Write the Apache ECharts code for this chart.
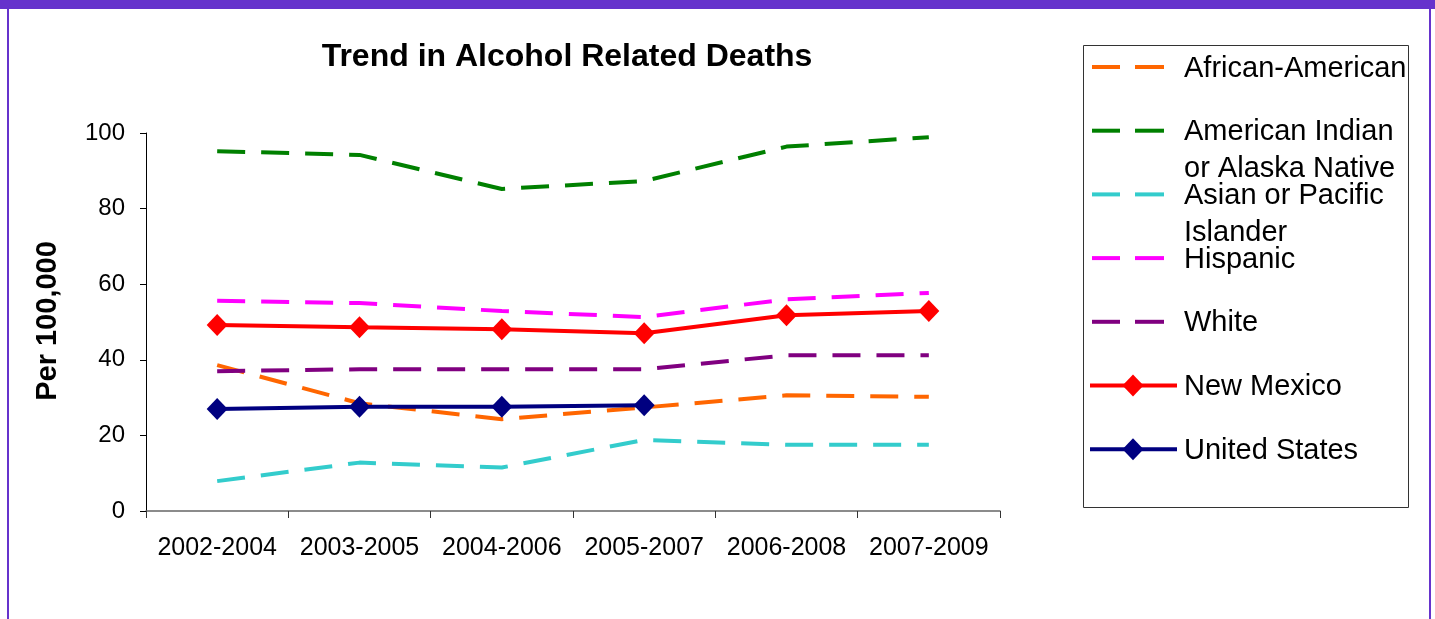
<!DOCTYPE html>
<html>
<head>
<meta charset="utf-8">
<script src="https://cdn.jsdelivr.net/npm/echarts@6/dist/echarts.min.js"></script>
<style>
html,body{margin:0;padding:0;background:#fff;}
#c{width:1435px;height:619px;}
</style>
</head>
<body>
<div id="c"></div>
<script>
// ---- data ----
var categories = ['2002-2004','2003-2005','2004-2006','2005-2007','2006-2008','2007-2009'];
var africanAmerican = [38.6, 28.5, 24.3, 27.4, 30.6, 30.2];
var americanIndian  = [95.2, 94.2, 85.2, 87.3, 96.4, 98.9];
var asianPacific    = [7.9, 12.8, 11.5, 18.8, 17.5, 17.5];
var hispanic        = [55.6, 55.0, 52.9, 51.3, 56.0, 57.7];
var white           = [37.0, 37.5, 37.5, 37.5, 41.2, 41.2];
var newMexico       = [49.2, 48.6, 48.1, 47.0, 51.8, 52.9];
var unitedStates    = [27.0, 27.6, 27.6, 28.0, null, null];
var yTicks = [0, 20, 40, 60, 80, 100];

var seriesDefs = [
  {name:'African-American', legend:'African-American', data:africanAmerican, color:'#FF6600', dashed:true},
  {name:'American Indian or Alaska Native', legend:'American Indian\nor Alaska Native', data:americanIndian, color:'#008000', dashed:true},
  {name:'Asian or Pacific Islander', legend:'Asian or Pacific\nIslander', data:asianPacific, color:'#33CCCC', dashed:true},
  {name:'Hispanic', legend:'Hispanic', data:hispanic, color:'#FF00FF', dashed:true},
  {name:'White', legend:'White', data:white, color:'#800080', dashed:true},
  {name:'New Mexico', legend:'New Mexico', data:newMexico, color:'#FF0000', dashed:false},
  {name:'United States', legend:'United States', data:unitedStates, color:'#000080', dashed:false}
];

var FONT = 'Arial, "Liberation Sans", sans-serif';
var DASH = [28, 16];

var series = seriesDefs.map(function(d){
  return {
    name: d.name,
    type: 'line',
    data: d.data,
    connectNulls: false,
    symbol: d.dashed ? 'none' : 'diamond',
    symbolSize: [21, 22],
    showSymbol: !d.dashed,
    itemStyle: {color: d.color, borderWidth: 0},
    lineStyle: {color: d.color, width: 4, type: d.dashed ? DASH : 'solid', cap: 'butt'},
    animation: false,
    z: 2
  };
});

// legend drawn as graphics
var legendX = 1083, legendY = 45, legendW = 325, legendH = 462;
var itemY0 = 67, itemStep = 63.7;
var graphics = [
  // outer frame
  {type:'rect', shape:{x:0,y:0,width:1435,height:9}, style:{fill:'#6633CC'}, silent:true},
  {type:'rect', shape:{x:7,y:0,width:2,height:619}, style:{fill:'#6633CC'}, silent:true},
  {type:'rect', shape:{x:1429,y:0,width:2,height:619}, style:{fill:'#6633CC'}, silent:true},
  // legend box
  {type:'rect', shape:{x:legendX+0.5,y:legendY+0.5,width:legendW,height:legendH},
   style:{fill:'#fff', stroke:'#333', lineWidth:1}, silent:true, z:1},
  // y axis name
  {type:'text', x:48, y:321, rotation:Math.PI/2,
   style:{text:'Per 100,000', font:'bold 29px ' + FONT, fill:'#000', textAlign:'center', textVerticalAlign:'middle'}}
];
seriesDefs.forEach(function(d, i){
  var y = itemY0 + i*itemStep;
  if (d.dashed) {
    graphics.push({type:'line', shape:{x1:1092,y1:y,x2:1120,y2:y}, style:{stroke:d.color, lineWidth:4}, z:2});
    graphics.push({type:'line', shape:{x1:1135,y1:y,x2:1164,y2:y}, style:{stroke:d.color, lineWidth:4}, z:2});
  } else {
    graphics.push({type:'line', shape:{x1:1090,y1:y,x2:1177,y2:y}, style:{stroke:d.color, lineWidth:4}, z:2});
    graphics.push({type:'polygon', shape:{points:[[1133,y-11],[1143.5,y],[1133,y+11],[1122.5,y]]}, style:{fill:d.color}, z:3});
  }
  graphics.push({type:'text', x:1184, y:y-17, z:2,
    style:{text:d.legend, font:'29px ' + FONT, fill:'#000', textAlign:'left', textVerticalAlign:'top', lineHeight:37}});
});

var chart = echarts.init(document.getElementById('c'), null, {renderer:'canvas'});
chart.setOption({
  backgroundColor: '#fff',
  animation: false,
  title: {
    text: 'Trend in Alcohol Related Deaths',
    left: 562, top: 36, textAlign: 'center',
    textStyle: {fontFamily: FONT, fontWeight: 'bold', fontSize: 32, color: '#000'}
  },
  grid: {left: 146, right: 435, top: 133, bottom: 108, containLabel: false},
  xAxis: {
    type: 'category',
    data: categories,
    boundaryGap: true,
    axisLine: {show: true, lineStyle: {color: '#666', width: 1.5}},
    axisTick: {show: true, length: 7, inside: false, lineStyle: {color: '#333'}},
    axisLabel: {color: '#000', fontFamily: FONT, fontSize: 25, margin: 25, interval: 0},
    splitLine: {show: false}
  },
  yAxis: {
    type: 'value',
    min: yTicks[0], max: yTicks[yTicks.length-1], interval: yTicks[1]-yTicks[0],
    axisLine: {show: true, lineStyle: {color: '#000', width: 1}},
    axisTick: {show: true, length: 6, inside: false, lineStyle: {color: '#000'}},
    axisLabel: {color: '#000', fontFamily: FONT, fontSize: 24, margin: 21},
    splitLine: {show: false}
  },
  legend: {show: false},
  series: series,
  graphic: graphics
});
</script>
</body>
</html>
